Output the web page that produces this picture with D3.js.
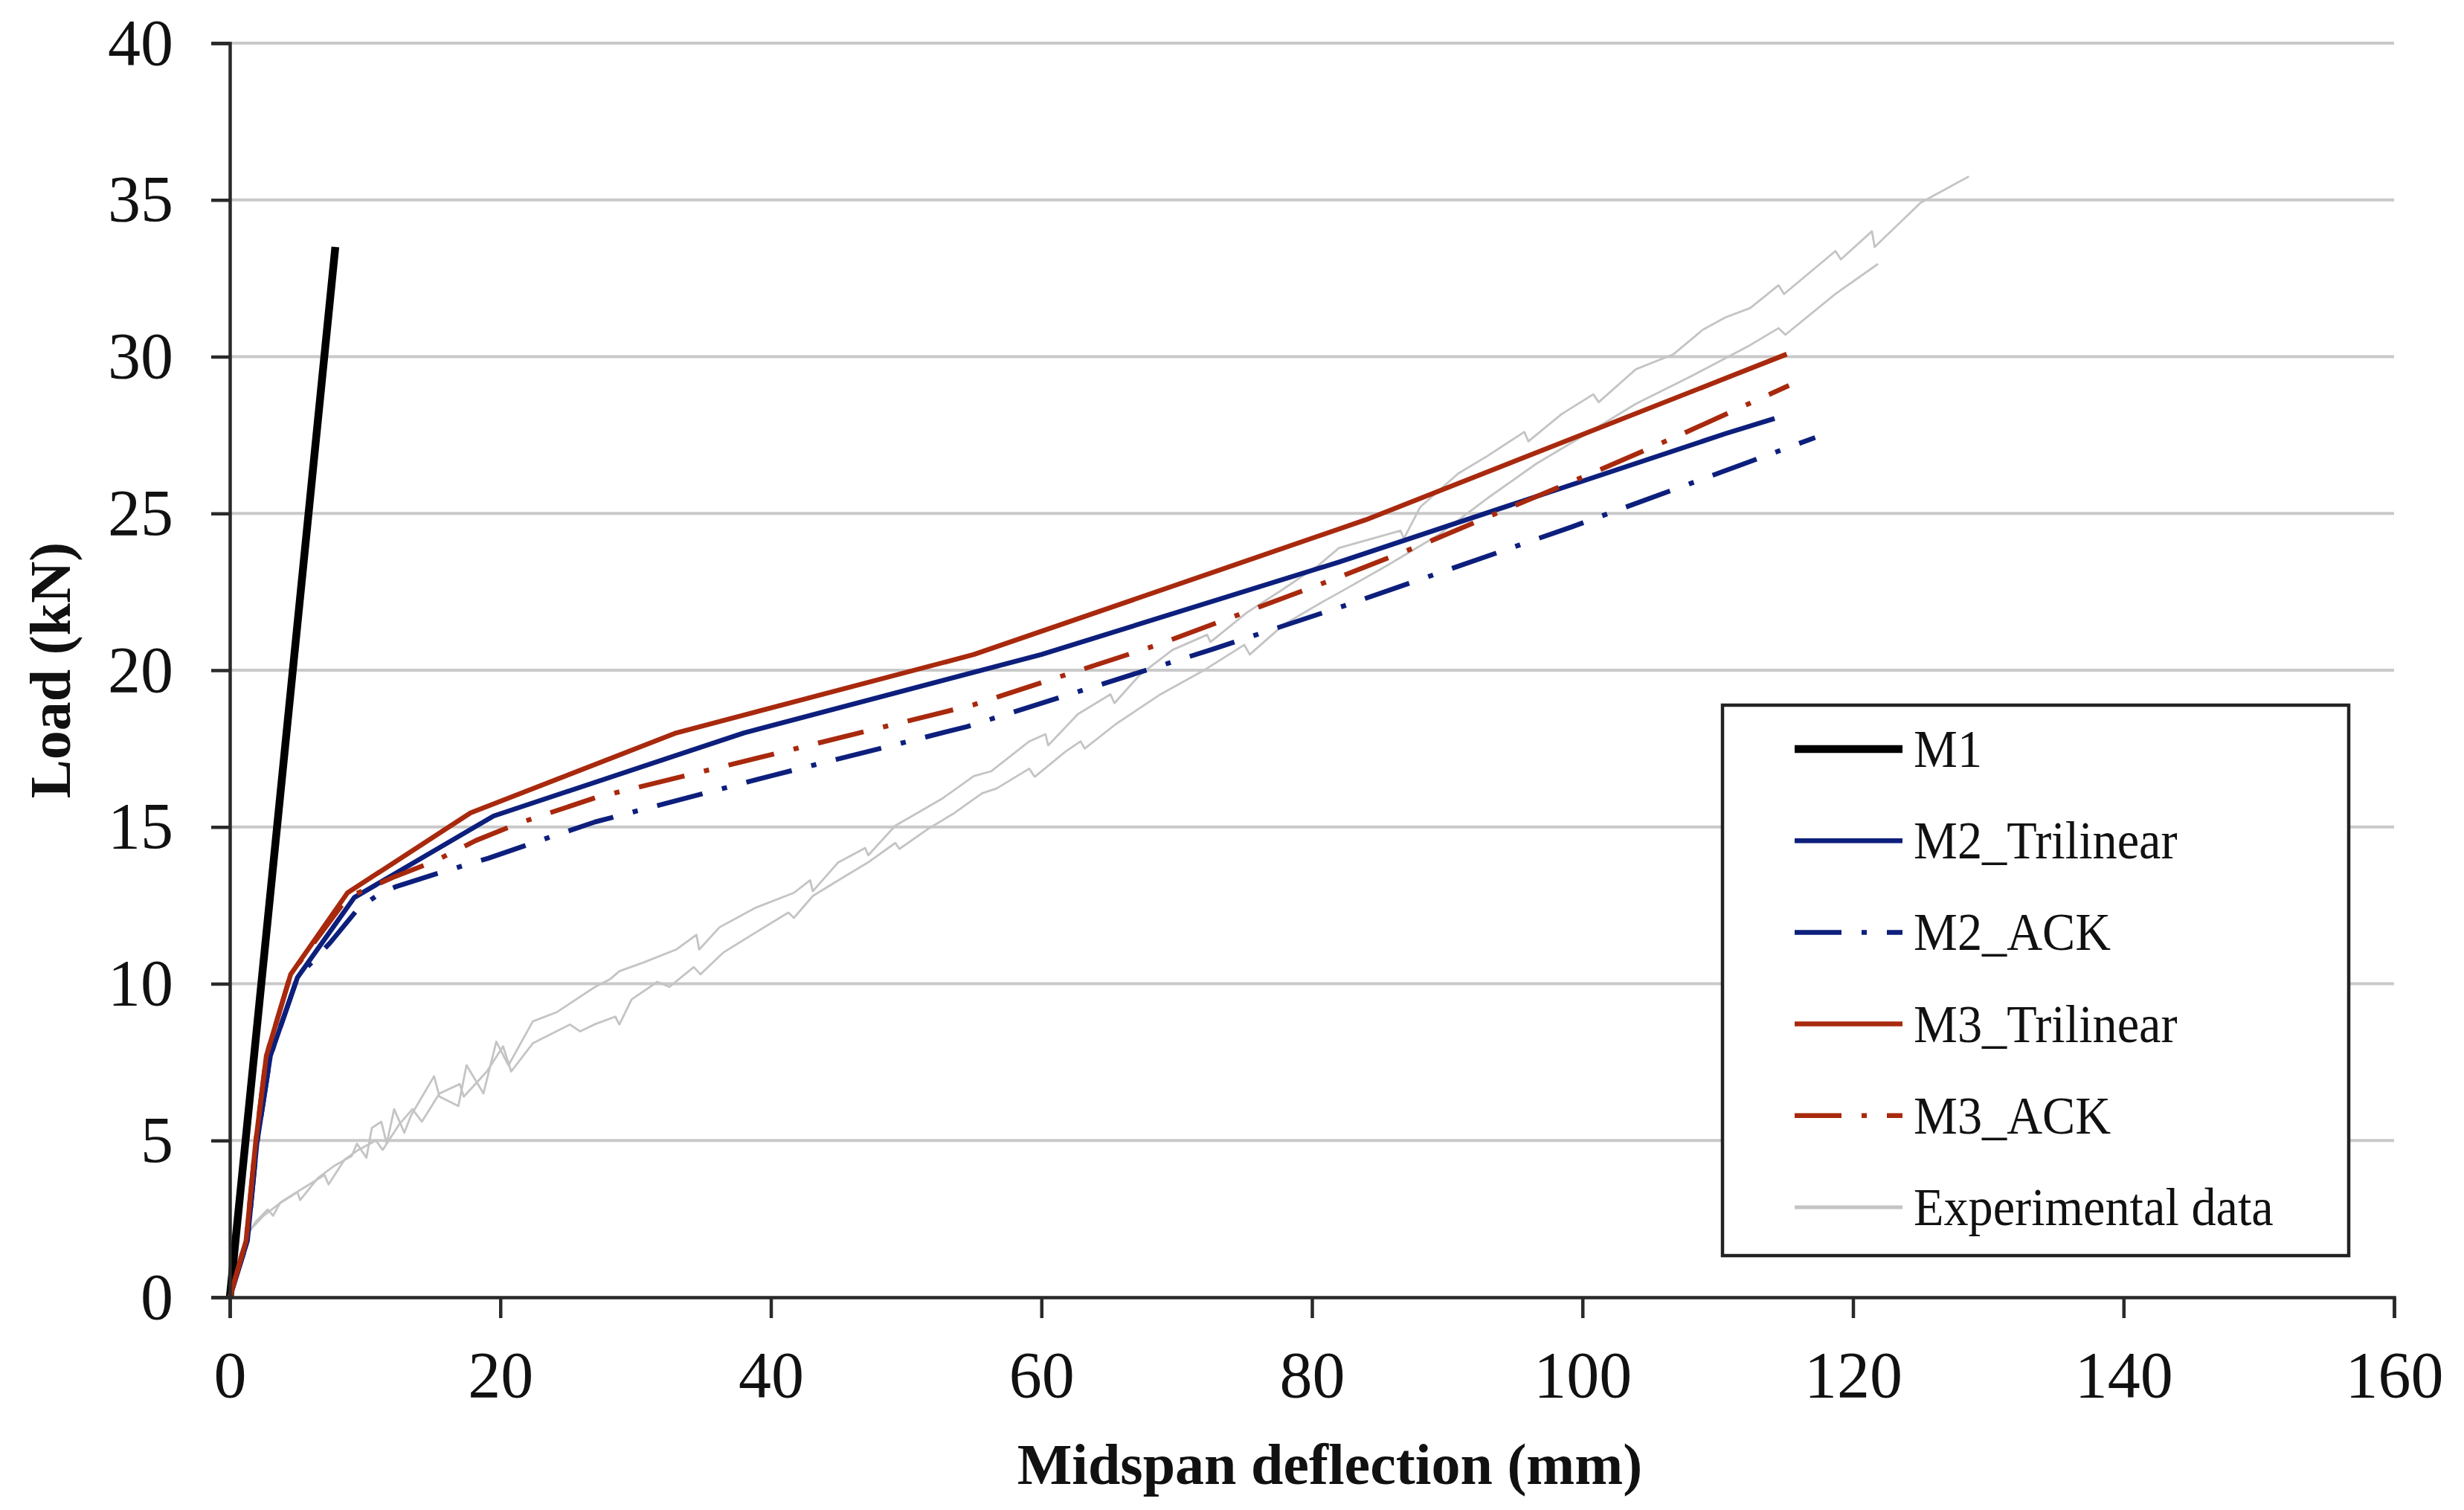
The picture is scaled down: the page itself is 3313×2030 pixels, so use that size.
<!DOCTYPE html>
<html>
<head>
<meta charset="utf-8">
<script src="https://cdn.jsdelivr.net/npm/d3@7"></script>
<style>
  body { margin: 0; background: #fff; }
  text { font-family: "Liberation Serif", "Times New Roman", serif; fill: #111; }
</style>
</head>
<body>
<script>
// chart data (deflection mm, load kN)
const xTicks = [0, 20, 40, 60, 80, 100, 120, 140, 160];
const yTicks = [0, 5, 10, 15, 20, 25, 30, 35, 40];

const m1 = [[0, 0], [7.8, 33.5]];

const m2Trilinear = [[0, 0], [1.3, 1.8], [2.0, 4.9], [3.0, 7.7], [5.0, 10.2], [9.2, 12.75],
  [19.5, 15.35], [38, 18], [60, 20.5], [82, 23.45], [110.6, 27.55], [114.2, 28.03]];

const m2Ack = [[0, 0], [1.3, 1.8], [2.0, 4.9], [3.0, 7.7], [5.0, 10.2], [7.4, 11.3], [9.5, 12.4],
  [11, 12.85], [12.3, 13.1], [15.8, 13.58], [19.1, 14.0], [22.4, 14.49], [27, 15.16], [40, 16.63],
  [54.5, 18.2], [72.6, 20.66], [82.7, 22.1], [99.2, 24.57], [108.9, 26.1], [117.2, 27.42]];

const m3Trilinear = [[0, 0], [1.2, 1.8], [1.9, 4.9], [2.7, 7.7], [4.5, 10.3], [8.7, 12.9],
  [17.8, 15.45], [33, 18], [55, 20.5], [84, 24.8], [115.1, 30.08]];

const m3Ack = [[0, 0], [1.2, 1.8], [1.9, 4.9], [2.7, 7.7], [4.5, 10.3], [8.7, 12.75], [12, 13.38],
  [15.1, 13.9], [18.2, 14.57], [21.5, 15.14], [27, 15.93], [41, 17.41], [55, 18.9], [68.6, 20.81],
  [81.6, 22.9], [88, 23.98], [94.5, 25.16], [100.8, 26.3], [107.35, 27.53], [115.26, 29.08]];

// two test specimens
const expUpper = [[0, 0], [0.5, 1.0], [1.3, 2.0], [1.9, 2.4], [2.8, 2.8], [3.2, 2.6], [3.7, 3.0],
  [5.0, 3.35], [5.2, 3.1], [6.5, 3.8], [7.75, 4.2], [9.0, 4.5], [9.4, 4.9], [10.1, 4.45], [10.5, 5.4],
  [11.2, 5.6], [11.6, 4.9], [12.15, 6.0], [12.9, 5.25], [13.4, 5.8], [15.1, 7.05], [15.5, 6.4],
  [16.9, 6.1], [17.5, 7.4], [18.75, 6.5], [19.7, 8.15], [20.6, 7.4], [22.4, 8.8], [24.2, 9.1],
  [27.0, 9.9], [28.1, 10.14], [28.8, 10.4], [30.66, 10.69], [33.0, 11.09], [34.5, 11.56], [34.7, 11.09],
  [36.2, 11.8], [38.9, 12.43], [41.7, 12.9], [42.9, 13.3], [43.1, 12.95], [44.95, 13.86], [46.97, 14.33],
  [47.2, 14.1], [49.2, 15.04], [50.8, 15.44], [52.65, 15.9], [55.0, 16.62], [56.3, 16.78], [59.1, 17.73],
  [60.3, 17.96], [60.5, 17.6], [62.7, 18.6], [65.1, 19.23], [65.4, 18.95], [67.3, 19.86], [69.7, 20.65],
  [72.25, 21.13], [72.5, 20.9], [75.2, 21.84], [77.75, 22.55], [80.5, 23.35], [82, 23.9], [86.55, 24.45],
  [86.8, 24.2], [88, 25.2], [90.8, 26.27], [92.96, 26.83], [95.7, 27.6], [96, 27.3], [98.46, 28.17],
  [100.8, 28.8], [101.2, 28.55], [103.95, 29.6], [106.7, 30.07], [108.9, 30.86], [110.56, 31.25],
  [112.4, 31.55], [114.5, 32.28], [114.9, 32.0], [118.7, 33.37], [119.1, 33.1], [121.4, 34.0],
  [121.6, 33.5], [125.0, 34.91], [128.57, 35.75]];

const expLower = [[0, 0], [0.6, 1.2], [1.4, 2.1], [2.5, 2.6], [4.0, 3.1], [5.5, 3.5], [7.0, 3.9],
  [7.3, 3.6], [8.5, 4.4], [9.5, 4.7], [10.8, 5.0], [11.3, 4.7], [12.5, 5.5], [13.5, 6.0], [14.2, 5.6],
  [15.5, 6.5], [17.0, 6.8], [17.3, 6.4], [19.0, 7.2], [20.2, 8.0], [20.8, 7.2], [22.4, 8.1], [25.15, 8.7],
  [25.9, 8.48], [27.0, 8.71], [28.5, 8.95], [28.8, 8.7], [29.7, 9.5], [31.6, 10.06], [32.5, 9.9],
  [34.3, 10.53], [34.8, 10.3], [36.5, 11.0], [38.9, 11.64], [41.3, 12.27], [41.7, 12.1], [43.1, 12.8],
  [45.3, 13.38], [47.15, 13.86], [49.2, 14.49], [49.5, 14.3], [51.7, 14.96], [53.55, 15.44], [55.6, 16.07],
  [56.7, 16.23], [59.1, 16.86], [59.5, 16.6], [61.8, 17.41], [62.9, 17.73], [63.2, 17.5], [65.5, 18.28],
  [68.8, 19.23], [72.1, 20.02], [75.0, 20.81], [75.4, 20.5], [77.9, 21.45], [80.7, 22.16], [82, 22.47],
  [85.6, 23.35], [89.3, 24.3], [92.96, 25.48], [96.6, 26.59], [100.3, 27.54], [103.96, 28.5],
  [107.6, 29.28], [109.2, 29.64], [112.4, 30.37], [114.5, 30.91], [115, 30.7], [118.7, 32.0], [121.85, 32.96]];

const seriesNames = ["M1", "M2_Trilinear", "M2_ACK", "M3_Trilinear", "M3_ACK", "Experimental data"];

const width = 3313, height = 2030;
const BLUE = "#0d1f7c", RED = "#a8290d", GREY = "#c4c4c4";
const dashDot = "63,27,7,27";

// styles per series (same order as legend)
const series = [
  { name: seriesNames[0], data: m1, color: "#000", w: 10.5, dash: null },
  { name: seriesNames[1], data: m2Trilinear, color: BLUE, w: 6.5, dash: null },
  { name: seriesNames[2], data: m2Ack, color: BLUE, w: 6.5, dash: dashDot },
  { name: seriesNames[3], data: m3Trilinear, color: RED, w: 6.5, dash: null },
  { name: seriesNames[4], data: m3Ack, color: RED, w: 6.5, dash: dashDot },
];
const expSeries = [expUpper, expLower];

const svg = d3.select("body").append("svg")
  .attr("width", width)
  .attr("height", height);

svg.append("rect").attr("width", width).attr("height", height).attr("fill", "#fff");

const x = d3.scaleLinear().domain([0, 160]).range([309, 3219]);
const y = d3.scaleLinear().domain([0, 40]).range([1744, 58]);

// horizontal gridlines
svg.append("g")
  .selectAll("line")
  .data(yTicks.filter(d => d > 0))
  .join("line")
  .attr("x1", x(0)).attr("x2", x(160))
  .attr("y1", d => y(d)).attr("y2", d => y(d))
  .attr("stroke", "#c9c9c9")
  .attr("stroke-width", 4);

const line = d3.line().x(d => x(d[0])).y(d => y(d[1]));

// experimental curves
svg.append("g")
  .selectAll("path")
  .data(expSeries)
  .join("path")
  .attr("d", line)
  .attr("fill", "none")
  .attr("stroke", GREY)
  .attr("stroke-width", 2.8)
  .attr("stroke-linejoin", "round");

// model curves
svg.append("g")
  .selectAll("path")
  .data(series)
  .join("path")
  .attr("d", d => line(d.data))
  .attr("fill", "none")
  .attr("stroke", d => d.color)
  .attr("stroke-width", d => d.w)
  .attr("stroke-dasharray", d => d.dash)
  .attr("stroke-linejoin", "round");

// axes
const xAxis = svg.append("g")
  .attr("transform", `translate(0,${y(0)})`)
  .call(d3.axisBottom(x).tickValues(xTicks).tickSize(28).tickPadding(44));

const yAxis = svg.append("g")
  .attr("transform", `translate(${x(0)},0)`)
  .call(d3.axisLeft(y).tickValues(yTicks).tickSize(25).tickPadding(51));

[xAxis, yAxis].forEach(ax => {
  ax.select(".domain").attr("stroke", "#2a2a2a").attr("stroke-width", 4.5);
  ax.selectAll(".tick line").attr("stroke", "#2a2a2a").attr("stroke-width", 4.5);
  ax.selectAll(".tick text")
    .style("font-family", "Liberation Serif")
    .attr("font-size", 88)
    .attr("fill", "#111");
});

// axis titles
svg.append("text")
  .attr("x", 1788).attr("y", 1995)
  .attr("text-anchor", "middle")
  .attr("font-size", 78)
  .attr("font-weight", "bold")
  .text("Midspan deflection (mm)");

svg.append("text")
  .attr("transform", "translate(94,901) rotate(-90)")
  .attr("text-anchor", "middle")
  .attr("font-size", 78)
  .attr("font-weight", "bold")
  .text("Load (kN)");

// legend
const legend = svg.append("g");
legend.append("rect")
  .attr("x", 2316).attr("y", 948)
  .attr("width", 842).attr("height", 740)
  .attr("fill", "#fff")
  .attr("stroke", "#222")
  .attr("stroke-width", 4.5);

const legendItems = series.concat([{ name: seriesNames[5], color: GREY, w: 5, dash: null }]);
const row = legend.selectAll("g.item")
  .data(legendItems)
  .join("g")
  .attr("class", "item")
  .attr("transform", (d, i) => `translate(2413,${1007 + i * 123.2})`);

row.append("line")
  .attr("x1", 0).attr("x2", 145)
  .attr("stroke", d => d.color)
  .attr("stroke-width", d => d.w)
  .attr("stroke-dasharray", d => d.dash);

// the reference legend type is a little condensed
row.append("text")
  .attr("x", 160).attr("y", 24)
  .attr("font-size", 72)
  .text(d => d.name)
  .each(function () {
    const len = this.getComputedTextLength();
    d3.select(this).attr("textLength", len * 0.92).attr("lengthAdjust", "spacingAndGlyphs");
  });
</script>
</body>
</html>
